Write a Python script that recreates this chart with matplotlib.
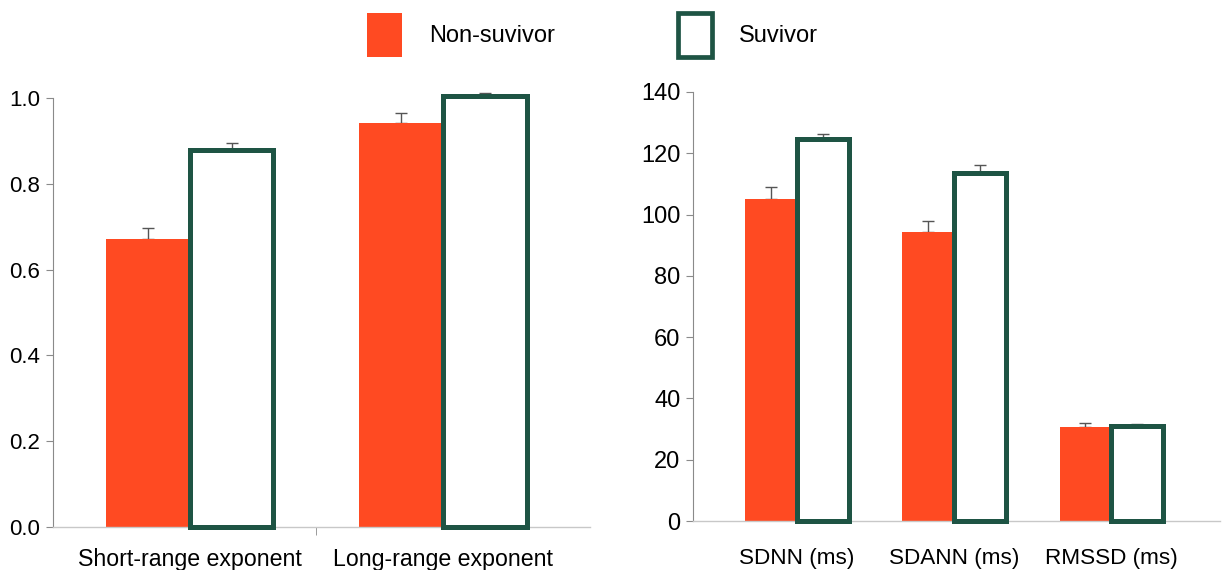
import numpy as np
import matplotlib
matplotlib.use("Agg")
import matplotlib.pyplot as plt
from matplotlib.patches import Patch

plt.rcParams['font.family'] = ['Liberation Sans', 'DejaVu Sans']

# scaling exponents
exp_labels = ['Short-range exponent', 'Long-range exponent']
exp_non = [0.671, 0.942]
exp_non_err = [0.026, 0.023]
exp_surv = [0.879, 1.005]
exp_surv_err = [0.017, 0.006]

# time-domain HRV
hrv_labels = ['SDNN (ms)', 'SDANN (ms)', 'RMSSD (ms)']
hrv_non = [105.1, 94.3, 30.7]
hrv_non_err = [4.0, 3.6, 1.2]
hrv_surv = [124.7, 113.6, 31.0]
hrv_surv_err = [1.6, 2.6, 0.6]

red = '#ff4a22'
green = '#1e5444'
axis_grey = '#8a8a8a'

fig = plt.figure(figsize=(12.28, 5.70), dpi=100)
ax1 = fig.add_axes([53 / 1228, 1 - 527 / 570, (590 - 53) / 1228, (527 - 98) / 570])
ax2 = fig.add_axes([693 / 1228, 1 - 521 / 570, (1220 - 693) / 1228, (521 - 92) / 570])


def draw_panel(ax, labels, non, non_err, surv, surv_err, ylim, yticks, fmt, xlim,
               pad, tick_fs, label_fs):
    x = np.arange(len(labels))
    w = 0.33
    ax.bar(x - w / 2, non, w, color=red, edgecolor='none', zorder=2)
    ax.bar(x + w / 2, surv, w, facecolor='white', edgecolor=green, linewidth=3.6,
           zorder=3, clip_on=False)
    ax.errorbar(x - w / 2, non, yerr=[np.zeros(len(x)), non_err], fmt='none',
                ecolor='#555555', elinewidth=1, capsize=4, capthick=1, zorder=1, clip_on=False)
    ax.errorbar(x + w / 2, surv, yerr=[np.zeros(len(x)), surv_err], fmt='none',
                ecolor='#555555', elinewidth=1, capsize=4, capthick=1, zorder=1, clip_on=False)
    ax.set_xlim(*xlim)
    ax.set_ylim(*ylim)
    ax.set_yticks(yticks)
    ax.set_yticklabels([fmt.format(v) for v in yticks], fontsize=tick_fs)
    ax.set_xticks(x)
    ax.set_xticklabels(labels, fontsize=label_fs)
    ax.tick_params(axis='x', length=0, pad=pad)
    ax.tick_params(axis='y', length=5, width=0.8, color=axis_grey, pad=4)
    for s in ['top', 'right']:
        ax.spines[s].set_visible(False)
    ax.spines['left'].set_color(axis_grey)
    ax.spines['left'].set_linewidth(0.8)
    ax.spines['bottom'].set_color('#c8c8c8')
    ax.spines['bottom'].set_linewidth(1.0)


draw_panel(ax1, exp_labels, exp_non, exp_non_err, exp_surv, exp_surv_err,
           (0, 1.0), np.arange(0, 1.01, 0.2), '{:.1f}', (-0.54, 1.58), 15, 16, 16.7)
ax1.set_xticks([0.5], minor=True)
ax1.tick_params(axis='x', which='minor', length=6, color=axis_grey)

draw_panel(ax2, hrv_labels, hrv_non, hrv_non_err, hrv_surv, hrv_surv_err,
           (0, 140), np.arange(0, 141, 20), '{:.0f}', (-0.66, 2.69), 19.5, 17, 16.2)

handles = [Patch(facecolor=red, edgecolor='none', label='Non-suvivor'),
           Patch(facecolor='white', edgecolor=green, linewidth=3.4, label='Suvivor')]
fig.legend(handles=handles, loc='upper left', bbox_to_anchor=(367 / 1228, 1 - 13 / 570),
           ncol=2, frameon=False, fontsize=17, borderaxespad=0, borderpad=0,
           handlelength=1.48, handleheight=2.49, handletextpad=1.14, columnspacing=5.2)

fig.savefig('out.png', dpi=100)
